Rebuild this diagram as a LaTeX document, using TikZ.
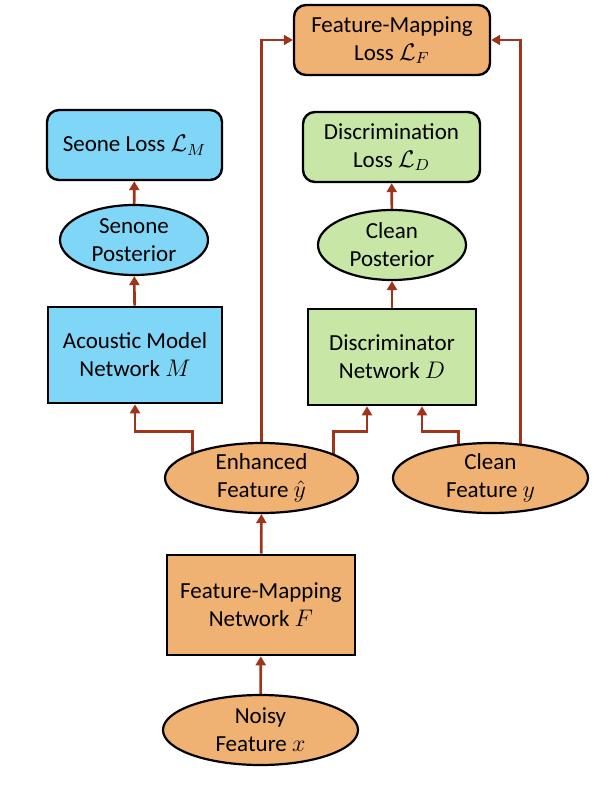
\documentclass[tikz,border=0pt]{standalone}
\usepackage{fontspec}
\setmainfont{Carlito}
\usetikzlibrary{arrows.meta,calc,backgrounds,shapes.geometric}
\definecolor{orng}{RGB}{240,178,115}
\definecolor{blu}{RGB}{128,214,247}
\definecolor{grn}{RGB}{200,230,166}
\definecolor{arr}{RGB}{160,52,26}
\begin{document}
\begin{tikzpicture}[x=0.5pt,y=-0.5pt,
  every node/.style={font=\fontsize{11.5}{14}\selectfont, align=center, text=black},
  rbox/.style={draw=black, line width=1.2pt, rounded corners=6pt, inner sep=0pt},
  sbox/.style={draw=black, line width=1.3pt, inner sep=0pt},
  ell/.style={draw=black, line width=1.1pt, ellipse, inner sep=0pt},
  conn/.style={draw=arr, line width=1.3pt, -{Triangle[width=5pt,length=4.5pt]}}]
\useasboundingbox (0,0) rectangle (602,787);
% nodes
\node[rbox, fill=orng, minimum width=98pt, minimum height=35pt] (fml) at (392,40) {Feature-Mapping\\Loss $\mathcal{L}_F$};
\node[rbox, fill=blu, minimum width=87.5pt, minimum height=35pt] (sml) at (134.5,145) {Seone Loss $\mathcal{L}_M$};
\node[rbox, fill=grn, minimum width=88.5pt, minimum height=35pt] (dl) at (391.5,147) {Discrimination\\Loss $\mathcal{L}_D$};
\node[ell, fill=blu, minimum width=74pt, minimum height=35pt] (sp) at (134,240) {Senone\\Posterior};
\node[ell, fill=grn, minimum width=74pt, minimum height=35pt] (cp) at (392,245) {Clean\\Posterior};
\node[sbox, fill=blu, minimum width=87pt, minimum height=48pt] (am) at (135,355) {Acoustic Model\\Network $M$};
\node[sbox, fill=grn, minimum width=84pt, minimum height=48pt] (disc) at (392,357) {Discriminator\\Network $D$};
\node[ell, fill=orng, minimum width=96.5pt, minimum height=35pt] (enh) at (261.5,478) {Enhanced\\Feature $\hat{y}$};
\node[ell, fill=orng, minimum width=97.5pt, minimum height=35pt] (clean) at (490.5,478) {Clean\\Feature $y$};
\node[sbox, fill=orng, minimum width=94pt, minimum height=50pt] (fmn) at (261,605) {Feature-Mapping\\Network $F$};
\node[ell, fill=orng, minimum width=97.5pt, minimum height=35pt] (noisy) at (260.5,730) {Noisy\\Feature $x$};
% connectors
\begin{scope}[on background layer]
\draw[conn] (noisy) -- (fmn);
\draw[conn] (fmn) -- (enh);
\draw[conn] (am) -- (sp);
\draw[conn] (sp) -- (sml);
\draw[conn] (disc) -- (cp);
\draw[conn] (cp) -- (dl);
\draw[conn] ($(enh.center)+(-69,0)$) |- ($(am.south)+(0,27)$) -- (am.south);
\draw[conn] (enh.center) |- (fml.west);
\draw[conn] ($(enh.center)+(72,0)$) |- ($(disc.south)+(-25,25)$) -- ($(disc.south)+(-25,0)$);
\draw[conn] ($(clean.center)+(-32,0)$) |- ($(disc.south)+(30,25)$) -- ($(disc.south)+(30,0)$);
\draw[conn] ($(clean.center)+(30,0)$) |- (fml.east);
\end{scope}
\end{tikzpicture}
\end{document}
